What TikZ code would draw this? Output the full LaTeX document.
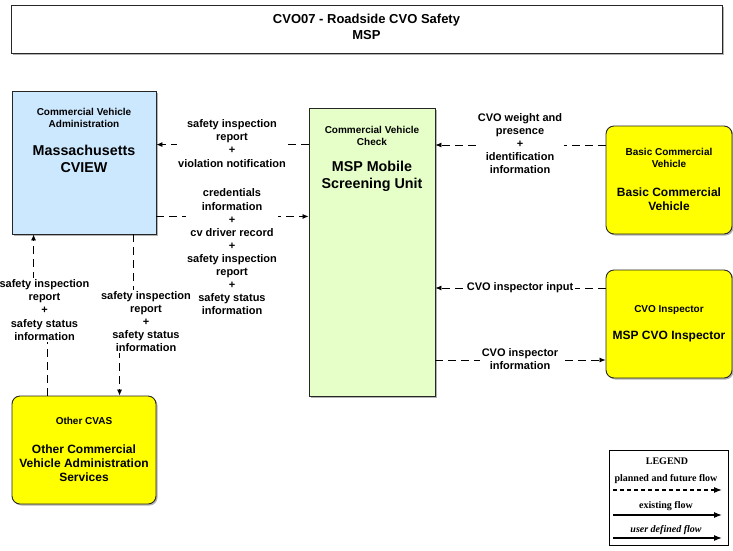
\documentclass[tikz,border=0pt]{standalone}
\usepackage{fontspec}
\setmainfont{Liberation Sans}
\newfontfamily\legfont{Liberation Serif}
\usetikzlibrary{arrows.meta,shadows}
\definecolor{cvblue}{HTML}{CCE8FF}
\definecolor{cvgreen}{HTML}{E6FFC8}
\definecolor{cvyellow}{HTML}{FFFF00}
\tikzset{
  box/.style={draw=black!85, line width=0.9pt, inner sep=0pt,
    drop shadow={shadow xshift=1.5pt, shadow yshift=-1.5pt, fill=black!30, opacity=1}},
  sqbox/.style={box, rectangle},
  rbox/.style={box, rounded corners=8pt, fill=cvyellow},
  typetxt/.style={font=\fontsize{10}{12}\selectfont\bfseries, align=center, inner sep=0pt},
  nametxt/.style={font=\fontsize{14.3}{16.5}\selectfont\bfseries, align=center, inner sep=0pt},
  ynametxt/.style={font=\fontsize{12}{14.2}\selectfont\bfseries, align=center, inner sep=0pt},
  lbl/.style={font=\fontsize{11}{13.1}\selectfont\bfseries, align=center, fill=white, inner sep=1.5pt},
  flow/.style={draw=black, line width=0.8pt, dash pattern=on 8pt off 5pt,
    -{Latex[length=6pt,width=5pt]}},
  legtxt/.style={font=\legfont\fontsize{10}{11}\selectfont\bfseries, inner sep=0pt},
  legarrow/.style={draw=black, line width=1.2pt, -{Latex[length=8pt,width=6pt]}}
}
\begin{document}
\begin{tikzpicture}[x=1pt,y=-1pt]
\useasboundingbox (0,0) rectangle (733,550);

% title
\node[sqbox, fill=white, minimum width=711, minimum height=48] (title) at (366.5,29) {};
\node[font=\fontsize{13}{16}\selectfont\bfseries, align=center, inner sep=0pt] (titletxt) at (366.5,27) {CVO07 - Roadside CVO Safety\\MSP};

% boxes
\node[sqbox, fill=cvblue, minimum width=144, minimum height=143] (cview) at (84,162.5) {};
\node[typetxt] (cviewt) at (84,117.5) {Commercial Vehicle\\Administration};
\node[nametxt] (cviewn) at (84,159) {Massachusetts\\CVIEW};

\node[sqbox, fill=cvgreen, minimum width=126, minimum height=288] (msp) at (372,252) {};
\node[typetxt] (mspt) at (372,136) {Commercial Vehicle\\Check};
\node[nametxt] (mspn) at (372,176.5) {MSP Mobile\\Screening Unit};

\node[rbox, minimum width=126, minimum height=108] (bcv) at (669,180) {};
\node[typetxt] (bcvt) at (669,158) {Basic Commercial\\Vehicle};
\node[ynametxt] (bcvn) at (669,199) {Basic Commercial\\Vehicle};

\node[rbox, minimum width=126, minimum height=108] (insp) at (669,324) {};
\node[typetxt] (inspt) at (669,310) {CVO Inspector};
\node[ynametxt] (inspn) at (669,337) {MSP CVO Inspector};

\node[rbox, minimum width=144, minimum height=108] (ocvas) at (84,450) {};
\node[typetxt] (ocvast) at (84,421) {Other CVAS};
\node[ynametxt] (ocvasn) at (84,463) {Other Commercial\\Vehicle Administration\\Services};

% flow 1: MSP -> CVIEW
\coordinate (f1) at ([yshift=-37pt]msp.north west);
\draw[flow] (f1) -- (f1 -| cview.east);
\node[lbl] (l1) at (232,143.5) {safety inspection\\report\\+\\violation notification};

% flow 2: CVIEW -> MSP
\coordinate (f2) at ([yshift=18pt]cview.south east);
\draw[flow] (f2) -- (f2 -| msp.west);
\node[lbl] (l2) at (232,252) {credentials\\information\\+\\cv driver record\\+\\safety inspection\\report\\+\\safety status\\information};

% flow 3: BCV -> MSP
\coordinate (f3) at ([yshift=35pt]bcv.west);
\draw[flow] (f3) -- (f3 -| msp.east);
\node[lbl] (l3) at (520,143.5) {CVO weight and\\presence\\+\\identification\\information};

% flow 4: Inspector -> MSP
\coordinate (f4) at ([yshift=36pt]insp.west);
\draw[flow] (f4) -- (f4 -| msp.east);
\node[lbl] (l4) at (520,288) {CVO inspector input};

% flow 5: MSP -> Inspector
\coordinate (f5) at ([yshift=-36pt]insp.west);
\draw[flow] (f5 -| msp.east) -- (f5);
\node[lbl] (l5) at (520,359.5) {CVO inspector\\information};

% flow 6: Other CVAS -> CVIEW
\coordinate (f6a) at ([xshift=36pt]ocvas.north west);
\coordinate (f6b) at ([xshift=22pt]cview.south west);
\coordinate (j6) at (0,310);
\draw[flow] (f6a) -- (f6a |- j6) -- (f6b |- j6) -- (f6b);
\node[lbl] (l6) at (44.5,310) {safety inspection\\report\\+\\safety status\\information};

% flow 7: CVIEW -> Other CVAS
\coordinate (f7a) at ([xshift=122pt]cview.south west);
\coordinate (f7b) at ([xshift=108pt]ocvas.north west);
\coordinate (j7) at (0,321);
\draw[flow] (f7a) -- (f7a |- j7) -- (f7b |- j7) -- (f7b);
\node[lbl] (l7) at (146,321.5) {safety inspection\\report\\+\\safety status\\information};

% legend
\node[draw=black, line width=0.9pt, fill=white, minimum width=119, minimum height=95, inner sep=0pt,
  drop shadow={shadow xshift=1pt, shadow yshift=-1pt, fill=black!25, opacity=1}] (legend) at (668.5,497.5) {};
\node[legtxt] (legt) at (667,461) {LEGEND};
\node[legtxt] (leg1) at (666,479) {planned and future flow};
\coordinate (la1) at (613,490);
\coordinate (lb1) at (722,490);
\draw[legarrow, dash pattern=on 4pt off 3pt] (la1) -- (lb1);
\node[legtxt] (leg2) at (666,506) {existing flow};
\coordinate (la2) at (613,515);
\coordinate (lb2) at (722,515);
\draw[legarrow] (la2) -- (lb2);
\node[legtxt, font=\legfont\fontsize{10}{11}\selectfont\bfseries\itshape] (leg3) at (666,530) {user defined flow};
\coordinate (la3) at (613,538);
\coordinate (lb3) at (722,538);
\draw[legarrow] (la3) -- (lb3);
\end{tikzpicture}
\end{document}
